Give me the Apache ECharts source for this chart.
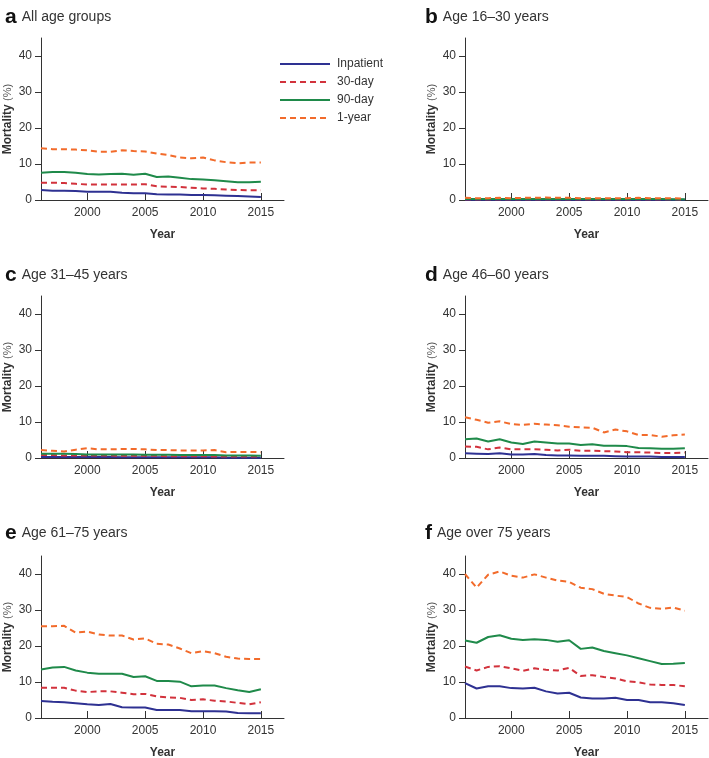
<!DOCTYPE html>
<html>
<head>
<meta charset="utf-8">
<script src="https://cdn.jsdelivr.net/npm/echarts@6/dist/echarts.min.js"></script>
<style>
html, body { margin: 0; padding: 0; background: #fff; }
#chart { width: 709px; height: 758px; }
</style>
</head>
<body>
<div id="chart"></div>
<script>
// years 1996-2015
var years = [1996, 1997, 1998, 1999, 2000, 2001, 2002, 2003, 2004, 2005,
             2006, 2007, 2008, 2009, 2010, 2011, 2012, 2013, 2014, 2015];
var xTickYears = [2000, 2005, 2010, 2015];
var yTickValues = [0, 10, 20, 30, 40];
var seriesNames = ['Inpatient', '30-day', '90-day', '1-year'];
var panelLetters = ['a', 'b', 'c', 'd', 'e', 'f'];
var panelTitles = ['All age groups', 'Age 16\u201330 years', 'Age 31\u201345 years',
                   'Age 46\u201360 years', 'Age 61\u201375 years', 'Age over 75 years'];

// a: all age groups
var inpatientAll = [2.8, 2.6, 2.6, 2.5, 2.3, 2.3, 2.3, 2.0, 1.9, 1.9, 1.6, 1.5, 1.5, 1.4, 1.4, 1.3, 1.2, 1.1, 1.0, 0.8];
var day30All = [4.8, 4.8, 4.7, 4.5, 4.3, 4.3, 4.3, 4.3, 4.3, 4.4, 3.8, 3.7, 3.6, 3.4, 3.2, 3.1, 2.9, 2.8, 2.7, 2.7];
var day90All = [7.6, 7.8, 7.8, 7.6, 7.2, 7.1, 7.2, 7.3, 7.0, 7.3, 6.4, 6.5, 6.2, 5.8, 5.7, 5.5, 5.2, 4.9, 4.9, 5.1];
var year1All = [14.4, 14.1, 14.1, 14.0, 13.8, 13.4, 13.4, 13.8, 13.6, 13.5, 12.9, 12.5, 11.8, 11.6, 11.8, 11.0, 10.5, 10.2, 10.4, 10.4];

// b: 16-30
var inpatient16 = [0.1, 0.1, 0.1, 0.1, 0.1, 0.1, 0.1, 0.1, 0.1, 0.1, 0.1, 0.1, 0.1, 0.1, 0.1, 0.1, 0.1, 0.1, 0.1, 0.1];
var day30_16 = [0.2, 0.2, 0.2, 0.2, 0.2, 0.2, 0.2, 0.2, 0.2, 0.2, 0.2, 0.2, 0.2, 0.2, 0.2, 0.2, 0.2, 0.2, 0.2, 0.1];
var day90_16 = [0.3, 0.3, 0.3, 0.3, 0.3, 0.3, 0.3, 0.3, 0.3, 0.3, 0.3, 0.3, 0.3, 0.3, 0.3, 0.3, 0.3, 0.3, 0.2, 0.2];
var year1_16 = [0.6, 0.5, 0.5, 0.6, 0.5, 0.6, 0.6, 0.7, 0.6, 0.6, 0.5, 0.5, 0.5, 0.5, 0.5, 0.6, 0.5, 0.5, 0.5, 0.4];

// c: 31-45
var inpatient31 = [0.3, 0.3, 0.3, 0.3, 0.3, 0.3, 0.3, 0.2, 0.2, 0.2, 0.2, 0.2, 0.2, 0.2, 0.2, 0.2, 0.1, 0.1, 0.1, 0.1];
var day30_31 = [0.8, 0.8, 0.7, 0.7, 0.7, 0.7, 0.7, 0.6, 0.6, 0.6, 0.6, 0.5, 0.5, 0.5, 0.5, 0.4, 0.4, 0.4, 0.4, 0.4];
var day90_31 = [1.2, 1.2, 1.2, 1.1, 1.0, 1.0, 1.0, 1.0, 1.0, 0.9, 0.9, 0.9, 0.8, 0.8, 0.8, 0.8, 0.7, 0.7, 0.7, 0.6];
var year1_31 = [2.2, 2.0, 1.8, 2.3, 2.7, 2.4, 2.4, 2.5, 2.5, 2.4, 2.2, 2.2, 2.1, 2.1, 2.1, 2.2, 1.6, 1.7, 1.7, 1.6];

// d: 46-60
var inpatient46 = [1.3, 1.2, 1.1, 1.3, 1.0, 1.0, 1.1, 0.8, 0.7, 0.7, 0.6, 0.6, 0.6, 0.5, 0.4, 0.4, 0.4, 0.3, 0.3, 0.3];
var day30_46 = [3.2, 3.1, 2.4, 2.9, 2.4, 2.4, 2.4, 2.3, 2.1, 2.3, 2.0, 2.0, 1.9, 1.8, 1.6, 1.6, 1.5, 1.4, 1.4, 1.5];
var day90_46 = [5.2, 5.4, 4.6, 5.2, 4.3, 3.9, 4.6, 4.3, 4.0, 4.0, 3.6, 3.8, 3.4, 3.4, 3.3, 2.8, 2.7, 2.6, 2.6, 2.7];
var year1_46 = [11.3, 10.6, 9.8, 10.2, 9.4, 9.2, 9.5, 9.3, 9.1, 8.7, 8.5, 8.4, 7.1, 7.9, 7.4, 6.4, 6.4, 5.9, 6.3, 6.5];

// e: 61-75
var inpatient61 = [4.7, 4.5, 4.4, 4.1, 3.8, 3.6, 3.9, 3.0, 2.9, 2.9, 2.2, 2.2, 2.2, 1.9, 1.9, 1.9, 1.8, 1.4, 1.3, 1.3];
var day30_61 = [8.4, 8.4, 8.4, 7.6, 7.2, 7.4, 7.4, 7.0, 6.6, 6.7, 6.0, 5.7, 5.6, 5.0, 5.2, 4.8, 4.6, 4.2, 3.8, 4.4];
var day90_61 = [13.5, 14.0, 14.2, 13.2, 12.6, 12.3, 12.3, 12.3, 11.4, 11.6, 10.3, 10.3, 10.1, 8.8, 9.0, 9.0, 8.3, 7.7, 7.2, 8.0];
var year1_61 = [25.5, 25.5, 25.6, 23.7, 24.0, 23.2, 22.9, 22.9, 21.8, 22.1, 20.6, 20.4, 19.3, 18.0, 18.6, 18.0, 17.0, 16.5, 16.4, 16.4];

// f: over 75
var inpatient75 = [9.7, 8.2, 8.8, 8.8, 8.3, 8.2, 8.4, 7.4, 6.8, 7.0, 5.7, 5.4, 5.4, 5.6, 5.0, 5.0, 4.4, 4.4, 4.1, 3.6];
var day30_75 = [14.3, 13.2, 14.2, 14.4, 13.8, 13.1, 13.8, 13.4, 13.2, 13.9, 11.7, 11.9, 11.4, 11.0, 10.2, 9.9, 9.3, 9.2, 9.2, 8.8];
var day90_75 = [21.5, 20.9, 22.5, 23.0, 22.0, 21.7, 21.9, 21.7, 21.2, 21.6, 19.2, 19.6, 18.6, 18.0, 17.4, 16.6, 15.8, 15.0, 15.1, 15.3];
var year1_75 = [40.0, 36.2, 39.8, 40.7, 39.5, 39.0, 39.9, 39.0, 38.2, 37.8, 36.2, 35.8, 34.5, 34.0, 33.6, 31.8, 30.6, 30.3, 30.7, 29.8];

var panelData = [
    [inpatientAll, day30All, day90All, year1All],
    [inpatient16, day30_16, day90_16, year1_16],
    [inpatient31, day30_31, day90_31, year1_31],
    [inpatient46, day30_46, day90_46, year1_46],
    [inpatient61, day30_61, day90_61, year1_61],
    [inpatient75, day30_75, day90_75, year1_75]
];

var lineColors = ['#2e3192', '#d2323c', '#1f8a4a', '#f26b2b'];
var lineTypes = ['solid', [6, 4], 'solid', [6, 4]];

var chart = echarts.init(document.getElementById('chart'));

var gridLefts = [41, 465];
var gridTops = [38, 296, 556];
var titleTops = [2, 260, 518];
var textColor = '#333';
var fontFamily = 'Liberation Sans, Arial, sans-serif';

var grids = [], xAxes = [], yAxes = [], titles = [], series = [];

for (var p = 0; p < 6; p++) {
    var col = p % 2;
    var row = Math.floor(p / 2);
    grids.push({
        left: gridLefts[col],
        top: gridTops[row],
        width: 243,
        height: 162,
        outerBoundsMode: 'none',
        containLabel: false
    });
    xAxes.push({
        type: 'value',
        gridIndex: p,
        min: 1996,
        max: 2017,
        name: 'Year',
        nameLocation: 'middle',
        nameGap: 29,
        nameTextStyle: { fontFamily: fontFamily, fontSize: 12, fontWeight: 'bold', color: textColor },
        splitLine: { show: false },
        axisLine: { lineStyle: { color: '#333', width: 1 } },
        axisTick: { show: true, inside: true, length: 7, customValues: xTickYears, lineStyle: { color: '#333' } },
        axisLabel: {
            customValues: xTickYears,
            margin: 7,
            fontFamily: fontFamily,
            fontSize: 12,
            color: textColor,
            formatter: function(v) { return String(v); }
        }
    });
    yAxes.push({
        type: 'value',
        gridIndex: p,
        min: 0,
        max: 45,
        name: '{b|Mortality} {n|(%)}',
        nameLocation: 'middle',
        nameGap: 27,
        nameRotate: 90,
        nameTextStyle: {
            rich: {
                b: { fontFamily: fontFamily, fontSize: 12, fontWeight: 'bold', color: textColor },
                n: { fontFamily: fontFamily, fontSize: 11, color: '#555' }
            }
        },
        splitLine: { show: false },
        axisLine: { show: true, lineStyle: { color: '#333', width: 1 } },
        axisTick: { show: true, length: 6, customValues: yTickValues, lineStyle: { color: '#333' } },
        axisLabel: { customValues: yTickValues, margin: 9, fontFamily: fontFamily, fontSize: 12, color: textColor }
    });
    titles.push({
        text: '{l|' + panelLetters[p] + '} {t|' + panelTitles[p] + '}',
        left: col === 0 ? 0 : 420,
        top: titleTops[row],
        textStyle: {
            fontWeight: 'normal',
            rich: {
                l: { fontFamily: fontFamily, fontSize: 21, fontWeight: 'bold', color: '#111' },
                t: { fontFamily: fontFamily, fontSize: 14, fontWeight: 'normal', color: textColor }
            }
        }
    });
    for (var s = 0; s < 4; s++) {
        var vals = panelData[p][s];
        var pts = [];
        for (var i = 0; i < years.length; i++) {
            pts.push([years[i], vals[i]]);
        }
        series.push({
            name: seriesNames[s],
            type: 'line',
            xAxisIndex: p,
            yAxisIndex: p,
            data: pts,
            symbol: 'none',
            showSymbol: false,
            animation: false,
            lineStyle: { color: lineColors[s], width: 2, type: lineTypes[s] },
            itemStyle: { color: lineColors[s] }
        });
    }
}

var option = {
    backgroundColor: '#fff',
    animation: false,
    title: titles,
    grid: grids,
    xAxis: xAxes,
    yAxis: yAxes,
    legend: {
        data: seriesNames,
        orient: 'vertical',
        left: 274,
        top: 53,
        itemWidth: 50,
        itemHeight: 12,
        itemGap: 6,
        itemStyle: { opacity: 0 },
        textStyle: { fontFamily: fontFamily, fontSize: 12, color: textColor, padding: [0, 0, 0, 2] }
    },
    series: series
};

chart.setOption(option);
</script>
</body>
</html>
